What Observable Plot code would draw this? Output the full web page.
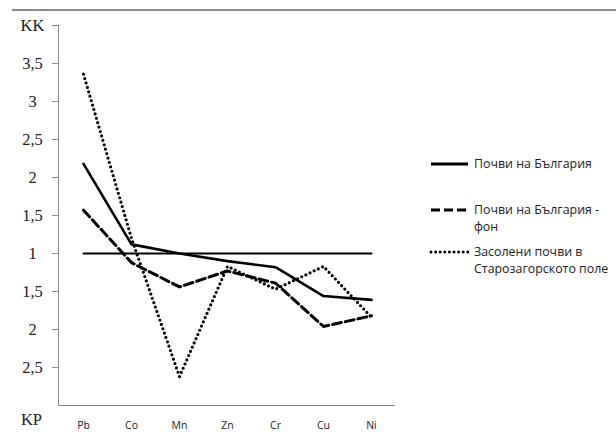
<!DOCTYPE html>
<html>
<head>
<meta charset="utf-8">
<script src="https://cdn.jsdelivr.net/npm/d3@7"></script>
<script src="https://cdn.jsdelivr.net/npm/@observablehq/plot@0.6"></script>
<style>
  html, body { margin: 0; padding: 0; background: #fff; }
  #chart { position: relative; width: 616px; height: 432px; }
  #topline { position: absolute; left: 12px; top: 9px; width: 604px; height: 0; border-top: 2px solid #8c8c8c; }
</style>
</head>
<body>
<div id="chart"><div id="topline"></div></div>
<script>
// Categories (elements)
const elements = ["Pb", "Co", "Mn", "Zn", "Cr", "Cu", "Ni"];
// Axis position values: above 1 read as KK, below 1 the axis is mirrored as KP (KP = 2 - value)
const bulgaria = [2.18, 1.12, 1.0, 0.9, 0.82, 0.44, 0.39];
const bulgariaBackground = [1.57, 0.88, 0.56, 0.77, 0.61, 0.04, 0.18];
const salineSoils = [3.36, 1.2, -0.62, 0.83, 0.53, 0.83, 0.16];
const reference = [1, 1, 1, 1, 1, 1, 1];
const seriesNames = ["Почви на България", "Почви на България - фон", "Засолени почви в Старозагорското поле"];
const yTicks = [-0.5, 0, 0.5, 1, 1.5, 2, 2.5, 3, 3.5, 4];

const rows = (vals, s) => elements.map((e, i) => ({el: e, v: vals[i], s}));
const fmt = t => {
  if (t === 4) return "KK";
  const v = t >= 1 ? t : 2 - t;
  return String(+v.toFixed(1)).replace(".", ",");
};

const chart = Plot.plot({
  width: 616,
  height: 432,
  marginLeft: 58,
  marginRight: 221,
  marginTop: 25,
  marginBottom: 27,
  style: {background: "transparent", color: "#222"},
  x: {type: "point", domain: elements, range: [80, 373], padding: 0, label: null},
  y: {domain: [-1, 4], label: null},
  marks: [
    Plot.frame({anchor: "left", stroke: "#888"}),
    Plot.ruleY([-1], {stroke: "#888"}),
    Plot.axisY({ticks: yTicks, tickFormat: fmt, tickSize: 6, tickPadding: 20, textAnchor: "middle",
      fontFamily: "Liberation Serif", fontSize: 16.5, stroke: "#888", label: null}),
    Plot.axisX({tickSize: 0, tickPadding: 16, fontFamily: "Open Sans", fontSize: 10.5, label: null}),
    Plot.text(["KP"], {frameAnchor: "bottom-left", dx: -27, dy: 14, fontFamily: "Liberation Serif", fontSize: 16.5, textAnchor: "middle", lineAnchor: "middle", fill: "#222"}),
    Plot.line(rows(reference, "ref"), {x: "el", y: "v", stroke: "#000", strokeWidth: 2}),
    Plot.line(rows(bulgaria, seriesNames[0]), {x: "el", y: "v", stroke: "#000", strokeWidth: 2.6}),
    Plot.line(rows(bulgariaBackground, seriesNames[1]), {x: "el", y: "v", stroke: "#000", strokeWidth: 3, strokeDasharray: "9,4"}),
    Plot.line(rows(salineSoils, seriesNames[2]), {x: "el", y: "v", stroke: "#000", strokeWidth: 3.2, strokeDasharray: "0,4.6", strokeLinecap: "round"})
  ]
});
chart.style.position = "absolute";
chart.style.left = "0";
chart.style.top = "0";
document.getElementById("chart").appendChild(chart);

// legend
const svg = d3.select(chart);
const legend = [
  {y: 164, dash: null, lines: ["Почви на България"], cap: "butt"},
  {y: 210, dash: "9,4", lines: ["Почви на България -", "фон"], cap: "butt"},
  {y: 252, dash: "0,4.6", lines: ["Засолени почви в", "Старозагорското поле"], cap: "round"}
];
const lg = svg.append("g").attr("text-anchor", "start");
legend.forEach(d => {
  lg.append("line").attr("x1", 431).attr("x2", 468).attr("y1", d.y).attr("y2", d.y)
    .attr("stroke", "#000").attr("stroke-width", 3)
    .attr("stroke-dasharray", d.dash).attr("stroke-linecap", d.cap);
  d.lines.forEach((t, i) => {
    lg.append("text").attr("x", 474).attr("y", d.y + i * 17).attr("dy", "0.35em")
      .attr("text-anchor", "start")
      .attr("font-family", "Open Sans").attr("font-size", 12.4).attr("fill", "#222").text(t);
  });
});
</script>
</body>
</html>
